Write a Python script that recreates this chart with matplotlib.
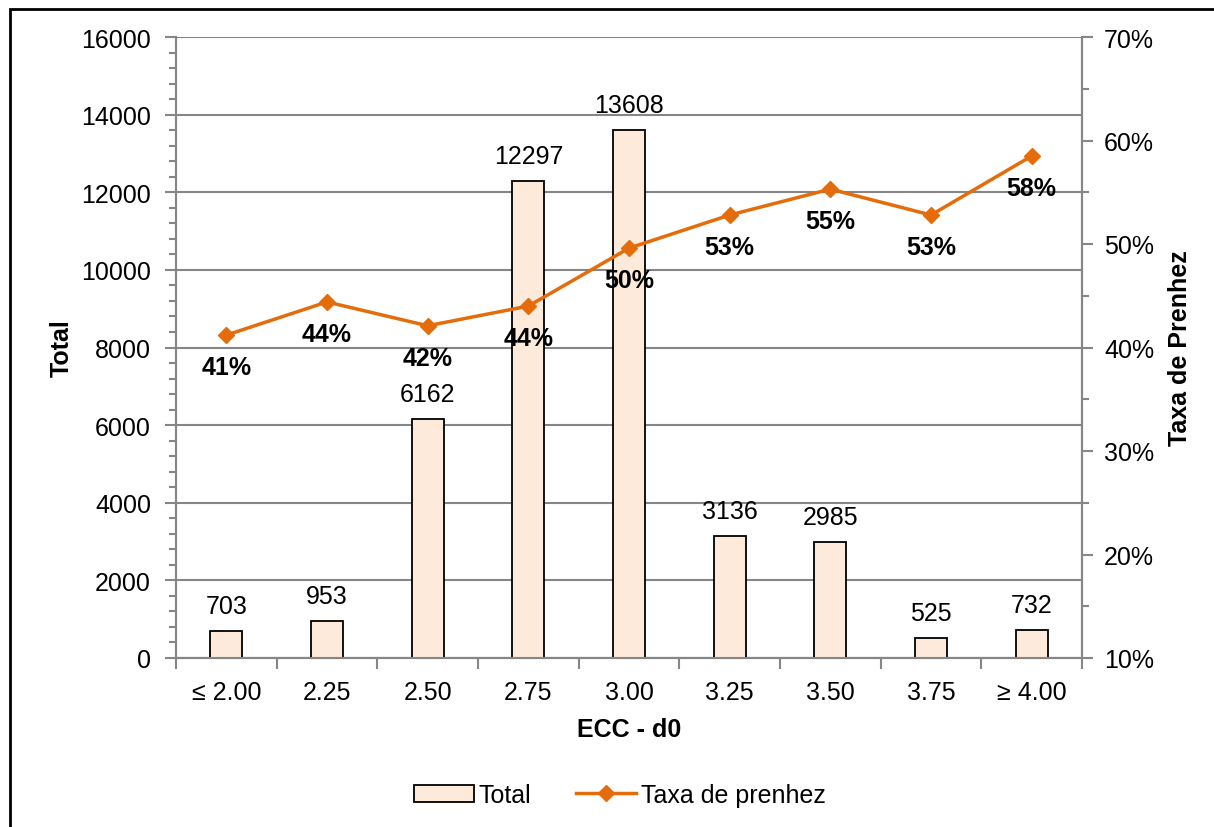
import numpy as np
import matplotlib
matplotlib.use('Agg')
import matplotlib.pyplot as plt
from matplotlib.ticker import MultipleLocator, FixedLocator, PercentFormatter
from matplotlib.patches import Rectangle
from matplotlib.lines import Line2D

plt.rcParams['font.family'] = ['Liberation Sans', 'DejaVu Sans']

categories = ['≤ 2.00', '2.25', '2.50', '2.75', '3.00', '3.25', '3.50', '3.75', '≥ 4.00']
totals = [703, 953, 6162, 12297, 13608, 3136, 2985, 525, 732]
taxa = [41.2, 44.4, 42.1, 44.0, 49.6, 52.8, 55.3, 52.8, 58.5]

bar_color = '#FDEADA'
line_color = '#E46C0A'
grid_color = '#868686'
fs = 18

fig = plt.figure(figsize=(12.14, 8.28), dpi=100)
ax = fig.add_axes([176 / 1214, 1 - 659 / 828, 906 / 1214, 621 / 828])
ax2 = ax.twinx()

x = np.arange(len(categories))
ax.bar(x, totals, width=0.32, color=bar_color, edgecolor='black', linewidth=1.3, zorder=3)
for xi, v in zip(x, totals):
    ax.annotate(str(v), (xi, v), xytext=(0, 18), textcoords='offset points',
                ha='center', va='center', fontsize=fs)

ax2.plot(x, taxa, color=line_color, linewidth=2.5, marker='D', markersize=8, zorder=4)
for xi, v in zip(x, taxa):
    ax2.annotate(f'{v:.0f}%', (xi, v), xytext=(0, -23), textcoords='offset points',
                 ha='center', va='center', fontsize=fs, fontweight='bold')

ax.set_xlim(-0.5, len(categories) - 0.5)
ax.set_ylim(0, 16000)
ax2.set_ylim(10, 70)

ax.yaxis.set_major_locator(MultipleLocator(2000))
ax.yaxis.set_minor_locator(MultipleLocator(400))
ax2.yaxis.set_major_locator(MultipleLocator(10))
ax2.yaxis.set_minor_locator(MultipleLocator(5))
ax2.yaxis.set_major_formatter(PercentFormatter(decimals=0))

ax.set_xticks(x)
ax.set_xticklabels(categories)
ax.xaxis.set_minor_locator(FixedLocator(np.arange(-0.5, len(categories), 1)))
ax.tick_params(axis='x', which='major', length=0, labelsize=fs, pad=16)
ax.tick_params(axis='x', which='minor', length=8, width=1.5, color=grid_color)
ax.tick_params(axis='y', which='major', length=8, width=1.5, color=grid_color, labelsize=fs, pad=10)
ax.tick_params(axis='y', which='minor', length=5, width=1.5, color=grid_color)
ax2.tick_params(axis='y', which='major', length=8, width=1.5, color=grid_color, labelsize=fs, pad=8)
ax2.tick_params(axis='y', which='minor', length=5, width=1.5, color=grid_color)

ax.grid(axis='y', which='major', color=grid_color, linewidth=1.5, zorder=0)
ax.set_axisbelow(True)

for a in (ax, ax2):
    a.spines['top'].set_visible(False)
    for s in ('left', 'right', 'bottom'):
        a.spines[s].set_color(grid_color)
        a.spines[s].set_linewidth(1.5)

ax.set_xlabel('ECC - d0', fontsize=fs, fontweight='bold', labelpad=9)
ax.set_ylabel('Total', fontsize=fs, fontweight='bold', labelpad=5)
ax2.set_ylabel('Taxa de Prenhez', fontsize=fs, fontweight='bold', labelpad=10)

handles = [Rectangle((0, 0), 1, 1, facecolor=bar_color, edgecolor='black', linewidth=1.3),
           Line2D([], [], color=line_color, linewidth=2.5, marker='D', markersize=8)]
fig.legend(handles, ['Total', 'Taxa de prenhez'], loc='center', bbox_to_anchor=(620 / 1214, 1 - 796 / 828),
           ncol=2, frameon=False, fontsize=fs, handlelength=2.4, handletextpad=0.2, columnspacing=1.8)

fig.patches.append(Rectangle((10 / 1214, -0.1), 1.2, 1.1 - 10 / 828, transform=fig.transFigure,
                             fill=False, edgecolor='black', linewidth=2))

fig.savefig('out.png', dpi=100)
